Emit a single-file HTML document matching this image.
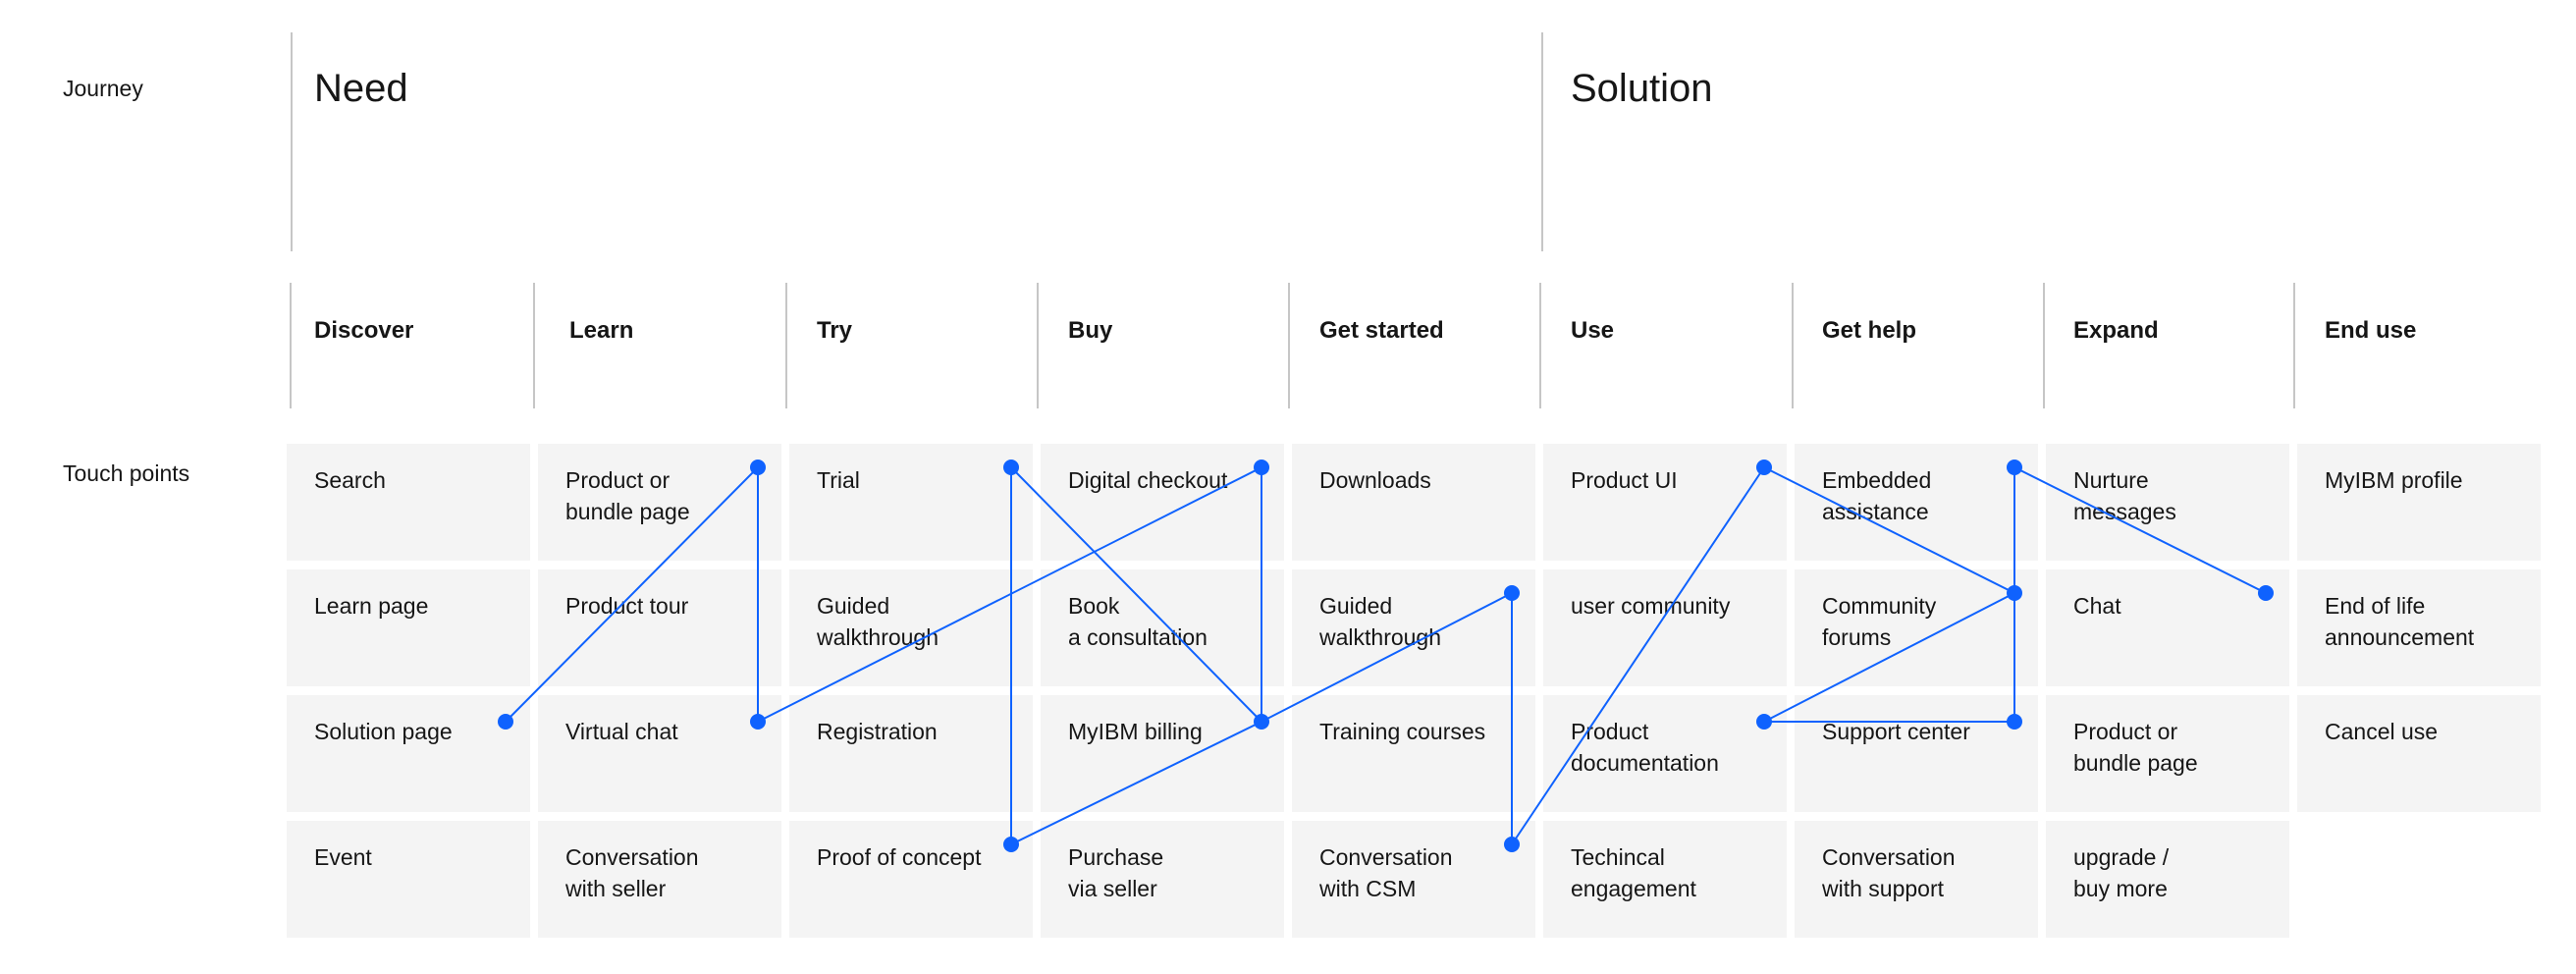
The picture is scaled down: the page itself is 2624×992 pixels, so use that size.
<!DOCTYPE html>
<html><head><meta charset="utf-8"><style>
body{margin:0;width:2624px;height:992px;background:#fff;position:relative;overflow:hidden;font-family:"Liberation Sans",sans-serif;color:#161616}
.a{position:absolute}
.cell{position:absolute;width:248px;height:119px;background:#f4f4f4;box-sizing:border-box;padding:21px 0 0 28px;font-size:23px;line-height:32px}
.vl{position:absolute;width:2px;background:#c6c6c6}
.hd{position:absolute;font-size:24px;font-weight:bold;top:323px}
</style></head><body>
<div class="a" style="left:64px;top:77px;font-size:23px">Journey</div>
<div class="a" style="left:64px;top:469px;font-size:23px">Touch points</div>
<div class="vl" style="left:296px;top:33px;height:223px"></div>
<div class="vl" style="left:1570px;top:33px;height:223px"></div>
<div class="a" style="left:320px;top:68px;font-size:40px;font-weight:300">Need</div>
<div class="a" style="left:1600px;top:68px;font-size:40px;font-weight:300">Solution</div>

<div class="vl" style="left:295px;top:288px;height:128px"></div>
<div class="vl" style="left:543px;top:288px;height:128px"></div>
<div class="vl" style="left:800px;top:288px;height:128px"></div>
<div class="vl" style="left:1056px;top:288px;height:128px"></div>
<div class="vl" style="left:1312px;top:288px;height:128px"></div>
<div class="vl" style="left:1568px;top:288px;height:128px"></div>
<div class="vl" style="left:1825px;top:288px;height:128px"></div>
<div class="vl" style="left:2081px;top:288px;height:128px"></div>
<div class="vl" style="left:2336px;top:288px;height:128px"></div>
<div class="hd" style="left:320px">Discover</div>
<div class="hd" style="left:580px">Learn</div>
<div class="hd" style="left:832px">Try</div>
<div class="hd" style="left:1088px">Buy</div>
<div class="hd" style="left:1344px">Get started</div>
<div class="hd" style="left:1600px">Use</div>
<div class="hd" style="left:1856px">Get help</div>
<div class="hd" style="left:2112px">Expand</div>
<div class="hd" style="left:2368px">End use</div>

<div class="cell" style="left:292px;top:452px">Search</div>
<div class="cell" style="left:292px;top:580px">Learn page</div>
<div class="cell" style="left:292px;top:708px">Solution page</div>
<div class="cell" style="left:292px;top:836px">Event</div>
<div class="cell" style="left:548px;top:452px">Product or<br>bundle page</div>
<div class="cell" style="left:548px;top:580px">Product tour</div>
<div class="cell" style="left:548px;top:708px">Virtual chat</div>
<div class="cell" style="left:548px;top:836px">Conversation<br>with seller</div>
<div class="cell" style="left:804px;top:452px">Trial</div>
<div class="cell" style="left:804px;top:580px">Guided<br>walkthrough</div>
<div class="cell" style="left:804px;top:708px">Registration</div>
<div class="cell" style="left:804px;top:836px">Proof of concept</div>
<div class="cell" style="left:1060px;top:452px">Digital checkout</div>
<div class="cell" style="left:1060px;top:580px">Book<br>a consultation</div>
<div class="cell" style="left:1060px;top:708px">MyIBM billing</div>
<div class="cell" style="left:1060px;top:836px">Purchase<br>via seller</div>
<div class="cell" style="left:1316px;top:452px">Downloads</div>
<div class="cell" style="left:1316px;top:580px">Guided<br>walkthrough</div>
<div class="cell" style="left:1316px;top:708px">Training courses</div>
<div class="cell" style="left:1316px;top:836px">Conversation<br>with CSM</div>
<div class="cell" style="left:1572px;top:452px">Product UI</div>
<div class="cell" style="left:1572px;top:580px">user community</div>
<div class="cell" style="left:1572px;top:708px">Product<br>documentation</div>
<div class="cell" style="left:1572px;top:836px">Techincal<br>engagement</div>
<div class="cell" style="left:1828px;top:452px">Embedded<br>assistance</div>
<div class="cell" style="left:1828px;top:580px">Community<br>forums</div>
<div class="cell" style="left:1828px;top:708px">Support center</div>
<div class="cell" style="left:1828px;top:836px">Conversation<br>with support</div>
<div class="cell" style="left:2084px;top:452px">Nurture<br>messages</div>
<div class="cell" style="left:2084px;top:580px">Chat</div>
<div class="cell" style="left:2084px;top:708px">Product or<br>bundle page</div>
<div class="cell" style="left:2084px;top:836px">upgrade /<br>buy more</div>
<div class="cell" style="left:2340px;top:452px">MyIBM profile</div>
<div class="cell" style="left:2340px;top:580px">End of life<br>announcement</div>
<div class="cell" style="left:2340px;top:708px">Cancel use</div>

<svg class="a" style="left:0;top:0" width="2624" height="992">
<g stroke="#0f62fe" stroke-width="2" fill="none">
<polyline points="515,735 772,476 772,735 1285,476 1285,735 1030,476 1030,860 1285,735 1540,604 1540,860 1797,476 2052,604 1797,735 2052,735 2052,476 2308,604"/>
</g>
<g fill="#0f62fe">
<circle cx="515" cy="735" r="8"/><circle cx="772" cy="476" r="8"/><circle cx="772" cy="735" r="8"/>
<circle cx="1030" cy="476" r="8"/><circle cx="1030" cy="860" r="8"/><circle cx="1285" cy="476" r="8"/>
<circle cx="1285" cy="735" r="8"/><circle cx="1540" cy="604" r="8"/><circle cx="1540" cy="860" r="8"/>
<circle cx="1797" cy="476" r="8"/><circle cx="1797" cy="735" r="8"/><circle cx="2052" cy="476" r="8"/>
<circle cx="2052" cy="604" r="8"/><circle cx="2052" cy="735" r="8"/><circle cx="2308" cy="604" r="8"/>
</g>
</svg>
</body></html>
